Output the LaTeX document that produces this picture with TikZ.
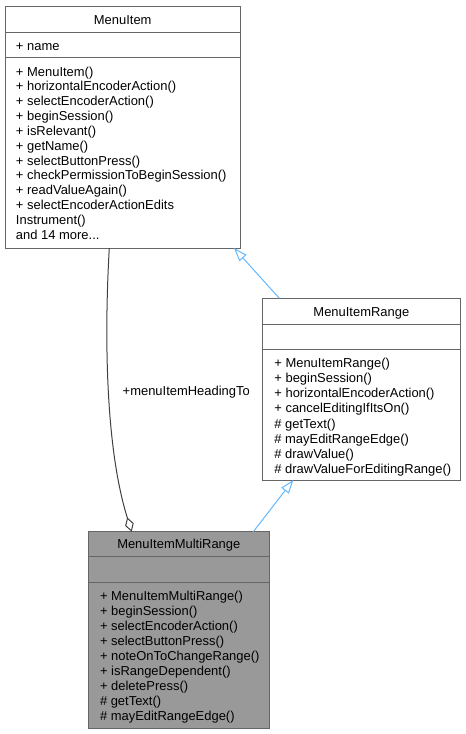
\documentclass[tikz,border=0pt]{standalone}
\usepackage{fontspec}
\setmainfont{Liberation Sans}
\usetikzlibrary{arrows.meta}
\definecolor{boxgray}{RGB}{102,102,102}
\definecolor{multifill}{RGB}{153,153,153}
\definecolor{inhblue}{RGB}{99,184,255}
\definecolor{aggrgray}{RGB}{64,64,64}
\newcommand\umlfont{\fontsize{12.95pt}{15pt}\selectfont}
\newcommand\moretxt{and 14 more...}
\tikzset{
  box/.style={draw=boxgray, line width=1pt, fill=white, inner sep=0pt, outer sep=0pt, anchor=north west},
  focusbox/.style={box, fill=multifill},
  sepline/.style={draw=boxgray, line width=1pt},
  txt/.style={inner sep=0pt, outer sep=0pt, anchor=base west, font=\umlfont},
  ttl/.style={inner sep=0pt, outer sep=0pt, anchor=base, font=\umlfont},
  inherit/.style={draw=inhblue, line width=1pt, -{Triangle[open, length=13.5pt, width=9.5pt]}},
  aggr/.style={draw=aggrgray, line width=1pt, {Diamond[open, length=15pt, width=9pt]}-},
}
\begin{document}
\begin{tikzpicture}[x=1pt, y=-1pt]
\useasboundingbox (0,0) rectangle (466,734);

% ---------------- MenuItem ----------------
\node[box, minimum width=235.5pt, minimum height=241.8pt] (mi) at (5,6.2) {};
\draw[sepline] ([yshift=-26.1pt]mi.north west) -- ([yshift=-26.1pt]mi.north east);
\draw[sepline] ([yshift=-51.1pt]mi.north west) -- ([yshift=-51.1pt]mi.north east);
\node[ttl] (mi-t) at (122.75,24) {MenuItem};
\node[txt] (mi-a) at (16,50) {+ name};
\foreach \t [count=\i from 0] in {+ MenuItem(), + horizontalEncoderAction(), + selectEncoderAction(), + beginSession(), + isRelevant(), + getName(), + selectButtonPress(), + checkPermissionToBeginSession(), + readValueAgain(), + selectEncoderActionEdits, Instrument(), \moretxt}
  \node[txt] (mi-m\i) at (16,{76+14.85*\i}) {\t};

% ---------------- MenuItemRange ----------------
\node[box, minimum width=197.3pt, minimum height=181.7pt] (rng) at (262.7,298.3) {};
\draw[sepline] ([yshift=-25.7pt]rng.north west) -- ([yshift=-25.7pt]rng.north east);
\draw[sepline] ([yshift=-51pt]rng.north west) -- ([yshift=-51pt]rng.north east);
\node[ttl] (rng-t) at (361.35,316) {MenuItemRange};
\foreach \t [count=\i from 0] in {+ MenuItemRange(), + beginSession(), + horizontalEncoderAction(), + cancelEditingIfItsOn(), \# getText(), \# mayEditRangeEdge(), \# drawValue(), \# drawValueForEditingRange()}
  \node[txt] (rng-m\i) at (274.4,{367.7+15.08*\i}) {\t};

% ---------------- MenuItemMultiRange ----------------
\node[focusbox, minimum width=181pt, minimum height=196.6pt] (mr) at (88.3,531.7) {};
\draw[sepline] ([yshift=-25pt]mr.north west) -- ([yshift=-25pt]mr.north east);
\draw[sepline] ([yshift=-51pt]mr.north west) -- ([yshift=-51pt]mr.north east);
\node[ttl] (mr-t) at (178.8,548.6) {MenuItemMultiRange};
\foreach \t [count=\i from 0] in {+ MenuItemMultiRange(), + beginSession(), + selectEncoderAction(), + selectButtonPress(), + noteOnToChangeRange(), + isRangeDependent(), + deletePress(), \# getText(), \# mayEditRangeEdge()}
  \node[txt] (mr-m\i) at (100,{600.7+15*\i}) {\t};

% ---------------- Connectors ----------------
\draw[inherit] ([xshift=16.6pt]rng.north west) -- ([xshift=-6.5pt]mi.south east);
\draw[inherit] ([xshift=-16pt]mr.north east) -- ([xshift=30.6pt]rng.south west);
\draw[aggr] ([xshift=43.4pt]mr.north west) .. controls (106,450) and (104,340) .. ([xshift=104.3pt]mi.south west);
\node[txt] (lbl) at (122.7,395) {+menuItemHeadingTo};
\end{tikzpicture}
\end{document}
